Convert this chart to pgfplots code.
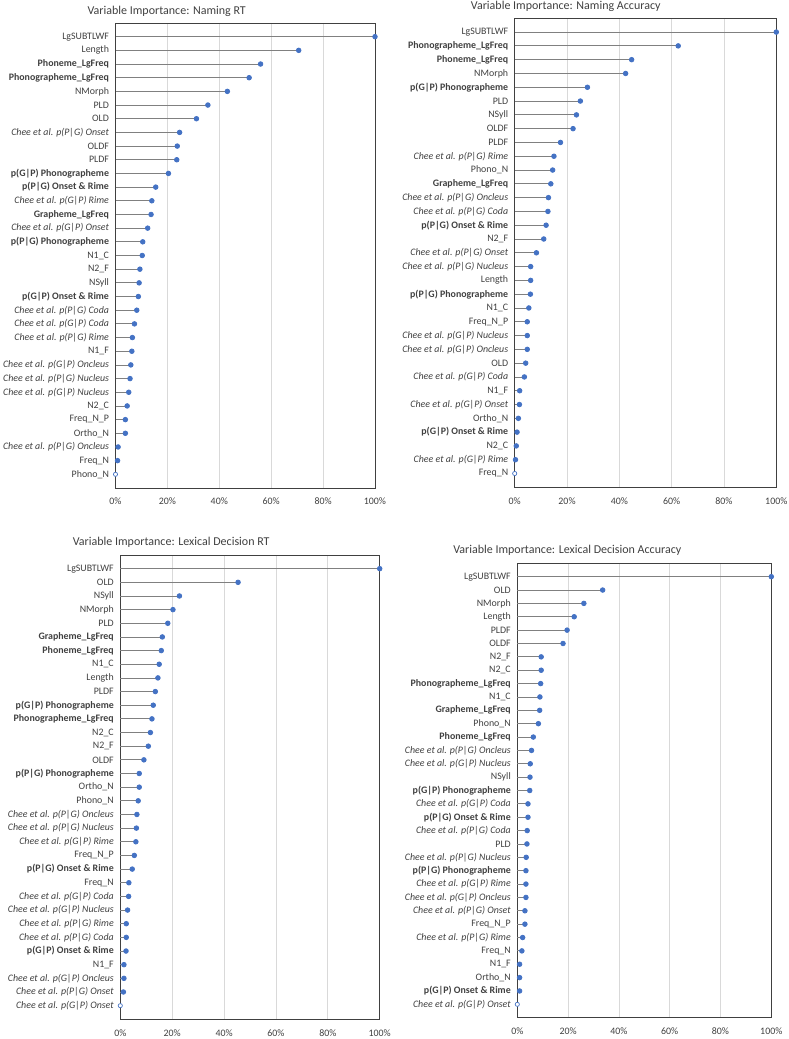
\documentclass[border=0pt]{standalone}
\usepackage{pgfplots}
\pgfplotsset{compat=1.18}
\usepackage{fontspec}
\setmainfont{Carlito}
\definecolor{mblue}{HTML}{4472C4}
\definecolor{stem}{HTML}{808080}
\definecolor{txt}{HTML}{404040}
\definecolor{gridc}{HTML}{D9D9D9}
\definecolor{frame}{HTML}{404040}
\newcommand{\ch}[1]{\textit{Chee et al. #1}}
\pgfplotsset{
  vi/.style={
    scale only axis, clip=false,
    xmin=0, xmax=100, ymin=0, ymax=34, y dir=reverse,
    xtick={0,20,...,100}, ytick={1,...,33},
    xticklabel={\pgfmathprintnumber{\tick}\%},
    /pgf/number format/assume math mode=true,
    major tick length=0pt,
    xmajorgrids, grid style={gridc, line width=0.75pt},
    axis line style={frame, line width=0.8pt},
    tick label style={font=\fontsize{9.9}{11}\selectfont, text=txt},
    yticklabel style={xshift=-3pt},
    xticklabel style={yshift=-6.5pt},
  },
  stemplot/.style={xcomb, color=stem, line width=0.8pt, mark=*, mark size=2.3pt, mark options={draw=mblue, fill=mblue}},
  zeroplot/.style={only marks, mark=*, mark size=2.1pt, mark options={draw=mblue, fill=white, line width=0.7pt}},
}
\begin{document}
\begin{tikzpicture}[x=1pt,y=1pt]
\useasboundingbox (0pt,0pt) rectangle (788pt,1039pt);
\node[font=\fontsize{12}{14}\selectfont, text=txt] at (166.7pt,1028pt) {Variable Importance: Naming RT};
\node[font=\fontsize{12}{14}\selectfont, text=txt] at (565.7pt,1033pt) {Variable Importance: Naming Accuracy};
\node[font=\fontsize{12}{14}\selectfont, text=txt] at (171.2pt,496.7pt) {Variable Importance: Lexical Decision RT};
\node[font=\fontsize{12}{14}\selectfont, text=txt] at (567.3pt,488.3pt) {Variable Importance: Lexical Decision Accuracy};

% Naming RT
\begin{axis}[vi, at={(115.5pt,551pt)}, anchor=south west, width=259.5pt, height=465pt,
  yticklabels={LgSUBTLWF, Length, \textbf{Phoneme\_LgFreq}, \textbf{Phonographeme\_LgFreq}, NMorph, PLD, OLD, \ch{p(P|G) Onset}, OLDF, PLDF, \textbf{p(G|P) Phonographeme}, \textbf{p(P|G) Onset \& Rime}, \ch{p(G|P) Rime}, \textbf{Grapheme\_LgFreq}, \ch{p(G|P) Onset}, \textbf{p(P|G) Phonographeme}, N1\_C, N2\_F, NSyll, \textbf{p(G|P) Onset \& Rime}, \ch{p(P|G) Coda}, \ch{p(G|P) Coda}, \ch{p(P|G) Rime}, N1\_F, \ch{p(G|P) Oncleus}, \ch{p(P|G) Nucleus}, \ch{p(G|P) Nucleus}, N2\_C, Freq\_N\_P, Ortho\_N, \ch{p(P|G) Oncleus}, Freq\_N, Phono\_N}]
\addplot[stemplot] coordinates {(100,1) (70.6,2) (55.9,3) (51.5,4) (43.1,5) (35.6,6) (31.2,7) (24.7,8) (23.8,9) (23.6,10) (20.4,11) (15.5,12) (14.0,13) (13.7,14) (12.4,15) (10.5,16) (10.3,17) (9.4,18) (9.1,19) (8.8,20) (8.2,21) (7.3,22) (6.5,23) (6.3,24) (5.9,25) (5.6,26) (5.1,27) (4.5,28) (3.8,29) (3.8,30) (1.0,31) (0.8,32)};
\addplot[zeroplot] coordinates {(0,33)};
\end{axis}

% Naming Accuracy
\begin{axis}[vi, at={(514.7pt,551.7pt)}, anchor=south west, width=261.6pt, height=469pt,
  yticklabels={LgSUBTLWF, \textbf{Phonographeme\_LgFreq}, \textbf{Phoneme\_LgFreq}, NMorph, \textbf{p(G|P) Phonographeme}, PLD, NSyll, OLDF, PLDF, \ch{p(P|G) Rime}, Phono\_N, \textbf{Grapheme\_LgFreq}, \ch{p(P|G) Oncleus}, \ch{p(P|G) Coda}, \textbf{p(P|G) Onset \& Rime}, N2\_F, \ch{p(P|G) Onset}, \ch{p(P|G) Nucleus}, Length, \textbf{p(P|G) Phonographeme}, N1\_C, Freq\_N\_P, \ch{p(G|P) Nucleus}, \ch{p(G|P) Oncleus}, OLD, \ch{p(G|P) Coda}, N1\_F, \ch{p(G|P) Onset}, Ortho\_N, \textbf{p(G|P) Onset \& Rime}, N2\_C, \ch{p(G|P) Rime}, Freq\_N}]
\addplot[stemplot] coordinates {(100,1) (62.5,2) (44.7,3) (42.4,4) (27.8,5) (25.1,6) (23.6,7) (22.3,8) (17.5,9) (15.0,10) (14.5,11) (13.8,12) (12.9,13) (12.7,14) (12.0,15) (11.1,16) (8.3,17) (6.1,18) (6.1,19) (6.0,20) (5.4,21) (4.8,22) (4.8,23) (4.8,24) (4.2,25) (3.7,26) (1.9,27) (1.8,28) (1.4,29) (0.9,30) (0.6,31) (0.3,32)};
\addplot[zeroplot] coordinates {(0,33)};
\end{axis}

% Lexical Decision RT
\begin{axis}[vi, at={(120.3pt,19.7pt)}, anchor=south west, width=259.4pt, height=464.3pt,
  yticklabels={LgSUBTLWF, OLD, NSyll, NMorph, PLD, \textbf{Grapheme\_LgFreq}, \textbf{Phoneme\_LgFreq}, N1\_C, Length, PLDF, \textbf{p(G|P) Phonographeme}, \textbf{Phonographeme\_LgFreq}, N2\_C, N2\_F, OLDF, \textbf{p(P|G) Phonographeme}, Ortho\_N, Phono\_N, \ch{p(P|G) Oncleus}, \ch{p(P|G) Nucleus}, \ch{p(G|P) Rime}, Freq\_N\_P, \textbf{p(P|G) Onset \& Rime}, Freq\_N, \ch{p(G|P) Coda}, \ch{p(G|P) Nucleus}, \ch{p(P|G) Rime}, \ch{p(P|G) Coda}, \textbf{p(G|P) Onset \& Rime}, N1\_F, \ch{p(G|P) Oncleus}, \ch{p(P|G) Onset}, \ch{p(G|P) Onset}}]
\addplot[stemplot] coordinates {(100,1) (45.4,2) (22.8,3) (20.3,4) (18.3,5) (16.2,6) (15.8,7) (15.0,8) (14.5,9) (13.5,10) (12.7,11) (12.2,12) (11.6,13) (10.8,14) (9.1,15) (7.3,16) (7.3,17) (6.9,18) (6.4,19) (6.2,20) (6.0,21) (5.4,22) (4.6,23) (3.3,24) (3.2,25) (2.8,26) (2.3,27) (2.3,28) (2.2,29) (1.4,30) (1.4,31) (1.2,32)};
\addplot[zeroplot] coordinates {(0,33)};
\end{axis}

% Lexical Decision Accuracy
\begin{axis}[vi, at={(517.3pt,21.3pt)}, anchor=south west, width=254pt, height=454.4pt,
  yticklabels={LgSUBTLWF, OLD, NMorph, Length, PLDF, OLDF, N2\_F, N2\_C, \textbf{Phonographeme\_LgFreq}, N1\_C, \textbf{Grapheme\_LgFreq}, Phono\_N, \textbf{Phoneme\_LgFreq}, \ch{p(P|G) Oncleus}, \ch{p(G|P) Nucleus}, NSyll, \textbf{p(G|P) Phonographeme}, \ch{p(G|P) Coda}, \textbf{p(P|G) Onset \& Rime}, \ch{p(P|G) Coda}, PLD, \ch{p(P|G) Nucleus}, \textbf{p(P|G) Phonographeme}, \ch{p(G|P) Rime}, \ch{p(G|P) Oncleus}, \ch{p(P|G) Onset}, Freq\_N\_P, \ch{p(P|G) Rime}, Freq\_N, N1\_F, Ortho\_N, \textbf{p(G|P) Onset \& Rime}, \ch{p(G|P) Onset}}]
\addplot[stemplot] coordinates {(100,1) (33.6,2) (26.2,3) (22.4,4) (19.6,5) (18.0,6) (9.4,7) (9.4,8) (9.2,9) (8.9,10) (8.8,11) (8.3,12) (6.3,13) (5.6,14) (5.1,15) (5.0,16) (4.9,17) (4.2,18) (4.2,19) (3.9,20) (3.8,21) (3.5,22) (3.4,23) (3.4,24) (3.4,25) (3.0,26) (3.0,27) (2.1,28) (1.8,29) (0.9,30) (0.9,31) (0.9,32)};
\addplot[zeroplot] coordinates {(0,33)};
\end{axis}
\end{tikzpicture}
\end{document}
